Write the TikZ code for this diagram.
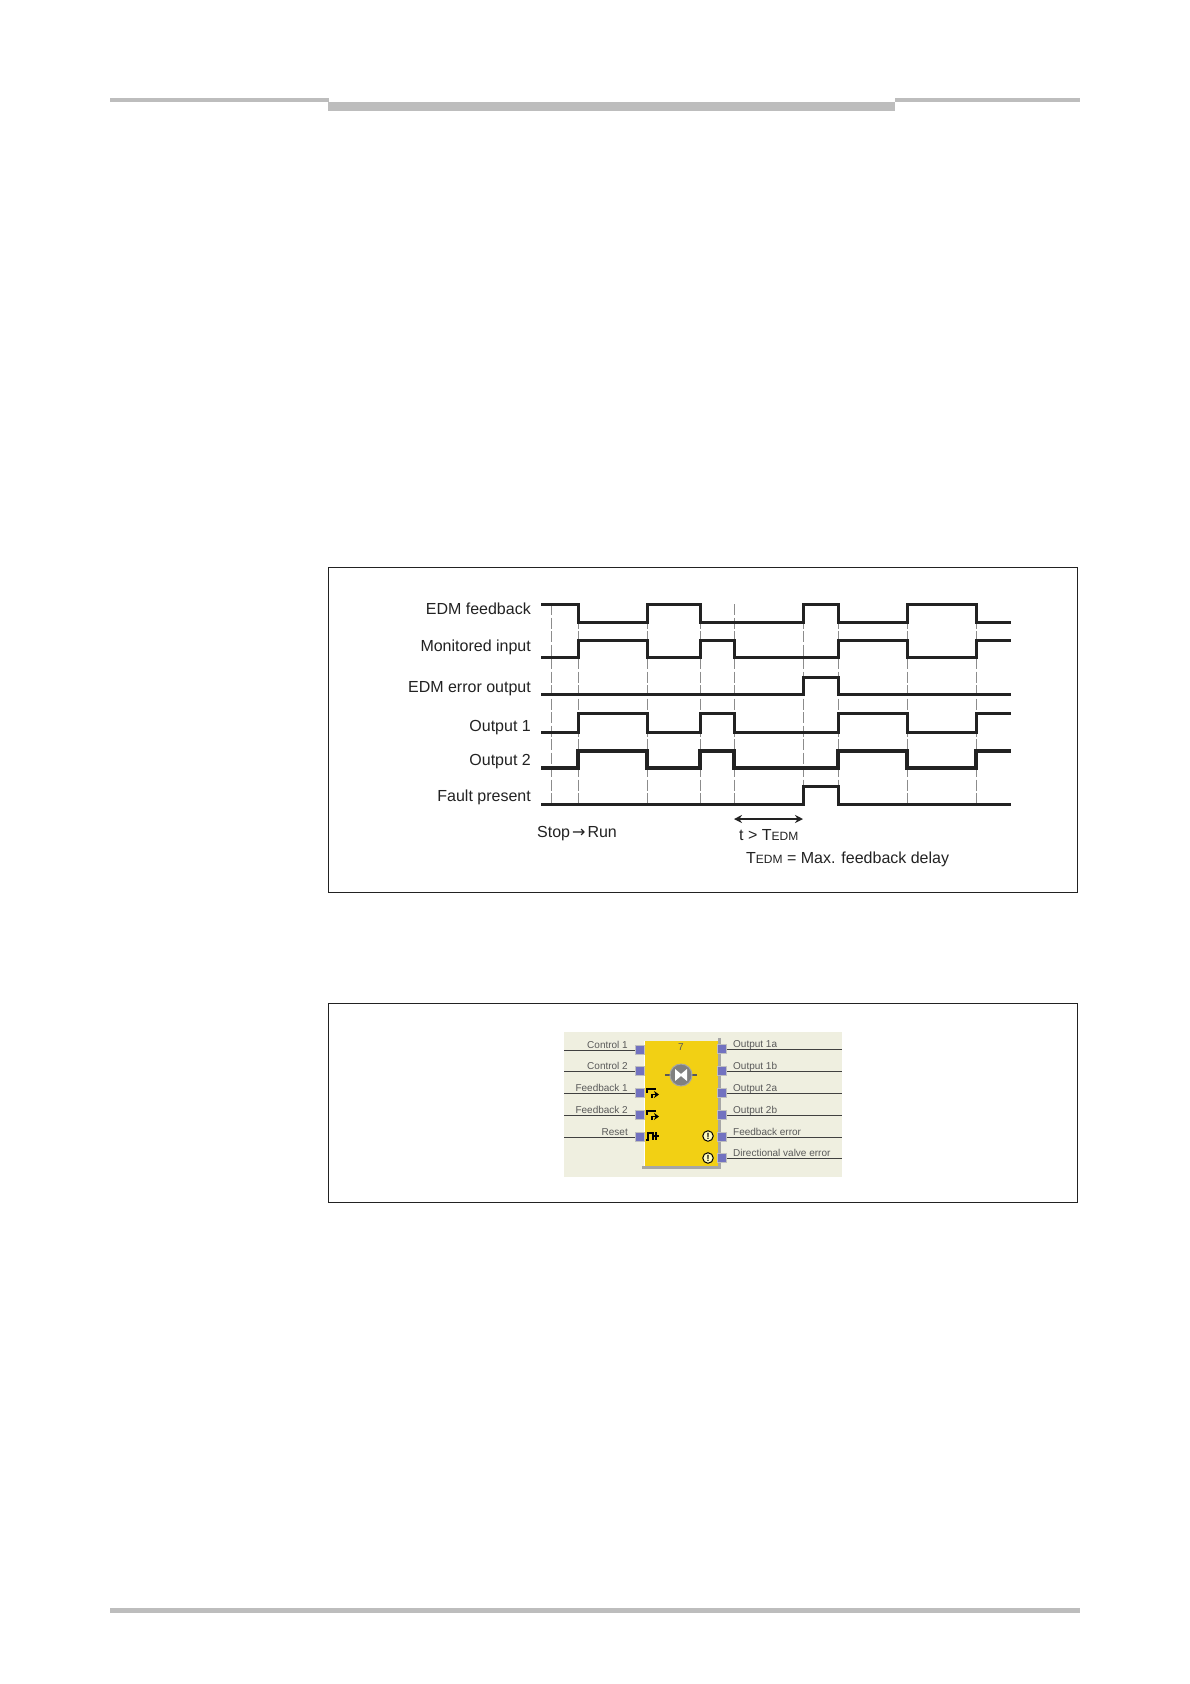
\documentclass[tikz,border=0pt]{standalone}
\usepackage{fontspec}
\setmainfont{Liberation Sans}
\newfontfamily\arrowfont{DejaVu Sans}
\usetikzlibrary{arrows.meta}
\definecolor{rulegray}{HTML}{BDBDBD}
\definecolor{inkdark}{HTML}{222222}
\definecolor{blockbg}{HTML}{EFEFE0}
\definecolor{blockyellow}{HTML}{F2D014}
\definecolor{portblue}{HTML}{7272C0}
\newcommand{\tedm}{T{\fontsize{12}{14}\selectfont EDM}}
\tikzset{
  every node/.style={inner sep=0pt, text=inkdark},
  sigtext/.style={font=\fontsize{16}{18}\selectfont, anchor=base east},
  notetext/.style={font=\fontsize{16}{18}\selectfont, anchor=base west},
  sig/.style={draw=inkdark, line width=3pt, line join=miter},
  guide/.style={draw=black!45, line width=0.7pt, dash pattern=on 11pt off 2.5pt},
  panel/.style={draw=inkdark, line width=1pt, fill=white},
  band/.style={fill=rulegray, draw=none},
  arr/.style={{Stealth[length=8pt,width=8pt]}-{Stealth[length=8pt,width=8pt]}, line width=1.5pt, draw=inkdark},
  port/.style={draw=black!25, line width=0.6pt, fill=portblue, minimum width=9pt, minimum height=9pt},
  wire/.style={draw=black!75, line width=0.9pt},
  portlabel/.style={font=\fontsize{10}{11}\selectfont, text=black!65},
  warn/.style={circle, draw=black, line width=1pt, fill=yellow!25, minimum size=10.5pt, font=\fontsize{9}{9}\bfseries\selectfont, text=black},
  glyph/.style={draw=black, line width=1.5pt},
}
\begin{document}
\begin{tikzpicture}[x=1pt, y=-1pt]
    \useasboundingbox (0,0) rectangle (1190,1684);

    % Page rules
    \fill[band] (110,98) rectangle (329,102);
    \fill[band] (328,102) rectangle (895,111);
    \fill[band] (895,98) rectangle (1080,102);
    \fill[band] (110,1608) rectangle (1080,1613);

    % Timing panel
    \draw[panel] (328,567) rectangle (1077.5,892);

    % Guides
    \foreach \xx in {551,578,647,700,734,803,838,907,976}
      \draw[guide] (\xx,604) -- (\xx,804);

    % Labels
    \node[sigtext] (lblfeedback) at (531,614) {EDM feedback};
    \node[sigtext] (lblinput) at (531,651) {Monitored input};
    \node[sigtext] (lblerror) at (531,692) {EDM error output};
    \node[sigtext] (lblout1) at (531,731) {Output 1};
    \node[sigtext] (lblout2) at (531,765) {Output 2};
    \node[sigtext] (lblfault) at (531,801) {Fault present};

    % Signals
    \draw[sig] (541,604) -- (578,604) -- (578,622) -- (647,622) -- (647,604) -- (700,604) -- (700,622)
      -- (803,622) -- (803,604) -- (838,604) -- (838,622) -- (907,622) -- (907,604) -- (976,604) -- (976,622) -- (1011,622);
    \draw[sig] (541,657) -- (578,657) -- (578,640) -- (647,640) -- (647,657) -- (700,657) -- (700,640) -- (734,640) -- (734,657)
      -- (838,657) -- (838,640) -- (907,640) -- (907,657) -- (976,657) -- (976,640) -- (1011,640);
    \draw[sig] (541,694) -- (803,694) -- (803,677) -- (838,677) -- (838,694) -- (1011,694);
    \draw[sig] (541,732) -- (578,732) -- (578,713) -- (647,713) -- (647,732) -- (700,732) -- (700,713) -- (734,713) -- (734,732)
      -- (838,732) -- (838,713) -- (907,713) -- (907,732) -- (976,732) -- (976,713) -- (1011,713);
    \draw[sig, line width=3.3pt] (541,768) -- (578,768) -- (578,751) -- (647,751) -- (647,768) -- (700,768) -- (700,751) -- (734,751) -- (734,768)
      -- (838,768) -- (838,751) -- (907,751) -- (907,768) -- (976,768) -- (976,751) -- (1011,751);
    \draw[sig] (541,804) -- (803,804) -- (803,786) -- (838,786) -- (838,804) -- (1011,804);

    % Notes
    \coordinate (delaya) at (734,819);
    \coordinate (delayb) at (803,819);
    \draw[arr] (delaya) -- (delayb);
    \node[notetext] (stoprun) at (537,837) {Stop\kern2pt{\arrowfont\fontsize{16}{18}\selectfont →}\kern2pt Run};
    \node[notetext] (tgreater) at (739,840) {t > \tedm};
    \node[notetext] (tdef) at (746,863) {\tedm{} = Max. feedback delay};

    % Block panel
    \draw[panel] (328,1003.5) rectangle (1077.5,1202);
    \fill[blockbg] (564,1032) rectangle (842,1177);
    \fill[black!35] (718,1038) rectangle (721,1169);
    \fill[black!35] (642,1166) rectangle (721,1169);
    \fill[blockyellow] (644,1041) rectangle (718,1166);
    \draw[white, line width=1pt] (644,1166) -- (644,1041);

    \node[font=\fontsize{10}{11}\selectfont, text=black!65] (blocknum) at (681,1047) {7};

    % Inputs
    \foreach \name/\lbl/\yy in {ctrla/Control 1/1050, ctrlb/Control 2/1071, fba/Feedback 1/1093, fbb/Feedback 2/1115, rst/Reset/1137} {
      \node[port] (\name) at (640,\yy) {};
      \coordinate (\name end) at (564,\yy);
      \draw[wire] (\name end) -- (\name);
      \node[portlabel, anchor=base east] (\name text) at (628,\yy-2) {\lbl};
    }

    % Outputs
    \foreach \name/\lbl/\yy in {outa/Output 1a/1049, outb/Output 1b/1071, outc/Output 2a/1093, outd/Output 2b/1115, oute/Feedback error/1137, outf/Directional valve error/1158} {
      \node[port] (\name) at (722,\yy) {};
      \coordinate (\name end) at (842,\yy);
      \draw[wire] (\name) -- (\name end);
      \node[portlabel, anchor=base west] (\name text) at (733,\yy-2) {\lbl};
    }

    % Valve symbol
    \draw[black!65, line width=2.5pt] (665,1075) -- (697,1075);
    \node[circle, fill=black!50, draw=black!35, line width=1pt, minimum size=22pt] (valve) at (681,1075) {};
    \fill[white] (675,1069) -- (681,1074) -- (687,1069) -- (687,1081) -- (681,1076) -- (675,1081) -- cycle;

    % Feedback and reset symbols
    \foreach \yy in {1093,1115} {
      \draw[glyph] (647,\yy) -- (647,\yy-4) -- (656,\yy-4);
      \draw[glyph, -{Stealth[length=5pt,width=7pt]}] (652,\yy+5) -- (652,\yy+1.5) -- (659,\yy+1.5);
    }
    \draw[glyph] (646,1140) -- (648,1140) -- (648,1133) -- (653,1133) -- (653,1140);
    \draw[glyph] (656,1132) -- (656,1140);
    \draw[glyph] (652,1136) -- (659,1136);

    \node[warn] (warna) at (708,1136) {!};
    \node[warn] (warnb) at (708,1158) {!};
\end{tikzpicture}
\end{document}
